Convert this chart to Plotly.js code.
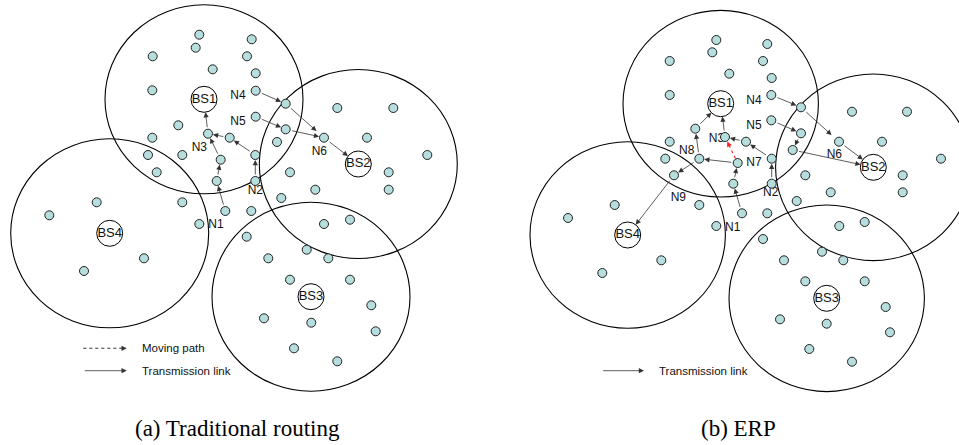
<!DOCTYPE html>
<html><head><meta charset="utf-8">
<script src="https://cdn.plot.ly/plotly-3.0.1.min.js"></script>
<style>html,body{margin:0;padding:0;background:#fff}#chart{width:959px;height:445px}</style>
</head><body><div id="chart"></div>
<script>
// ---------- Panel (a): Traditional routing ----------
const nodesAX = [199.3,195.7,251.7,247,152.7,212.7,255.7,152.3,255.7,285.7,337.3,393.3,178.3,255.7,285.7,324,367,152.3,208,229.7,277,148,182.3,220.7,255.3,427.3,156.7,290,388.7,216.7,255.3,315.3,388.7,281.3,96.7,182.3,49.3,225.3,251.3,350,324,199.3,246.7,144,84,306.7,328.3,268.3,290,350,371.3,264,311.3,375.7,294,337.3];
const nodesAY = [34.7,47.7,39.3,56.3,56.3,69.3,73.3,90.3,90.7,103.7,108,108,125.3,116.7,129.3,137.7,137.7,137.7,133.7,137.7,142,155,155,159.7,155,155,172.3,172.3,172.3,181,181,189.7,189.7,198,202.3,202.3,215.3,211,211,219.7,224,224,236.7,258.3,271,249.7,258.3,258.3,279.7,279.7,305.3,318.3,322.7,331.3,348.3,361.3];
const bsNames = ['BS1','BS2','BS3','BS4'];
const bsAX = [204,358.3,311,109.7];
const bsAY = [99.3,164,296.7,233.3];
const linksAFrom = ['n37','n29','n23','n18','n19','n24','n30','n8','n9','n13','n14','n15'];
const linksATo   = ['n29','n23','n18','b0','n18','n19','n24','n9','n15','n14','n15','b1'];
const labelsAText = ['N4','N5','N3','N6','N2','N1'];
const labelsAX = [238,238,199.3,319.3,255.3,216];
const labelsAY = [96,122.3,148,152,191,225];

// ---------- Panel (b): ERP ----------
const nodesBX = [716.3,712.3,767.3,763,669.7,729.3,771.7,669.7,771.3,801,852,907,695.3,771.3,801,839,882,669.7,725,746,792.7,665.3,699.3,737.7,771.7,941,674,805.3,902.7,733.3,771.7,830.7,902.7,796.7,614.7,699.3,568,742,767.3,864.7,839.3,716.3,763,661.3,602.3,822,843.3,784,805.3,864.7,885.7,780,826.7,890,809.3,852];
const nodesBY = [40,52.3,44,61,61,73.7,78,95,95,107.3,111.7,111.7,128.7,120.3,133.3,141.7,141.7,141.7,137,141.7,150,158.7,158.7,163,158.7,158.7,175.3,175.3,175.3,183.7,183.7,192.3,192.3,201,205,205,218,213.3,213.3,222,226,226,239,260.3,273,251.7,260.3,260.3,281.3,281.3,307,319.3,323.7,332.3,349,361.7];
const bsBX = [720.7,873.3,826.7,627.7];
const bsBY = [103.7,167.3,298.3,235];
const linksBFrom = ['n37','n29','n23','n22','n12','n18','n19','n24','n30','n22','n26','n8','n9','n15','n13','n14','n20'];
const linksBTo   = ['n29','n23','n22','n12','b0','b0','n18','n19','n24','n26','b3','n9','n15','b1','n14','n20','b1'];
const movesBFrom = ['n23'];
const movesBTo   = ['n18'];
const labelsBText = ['N4','N5','N3','N8','N7','N6','N2','N9','N1'];
const labelsBX = [754,754,716.5,686.7,754,834.3,770.7,678.3,732.7];
const labelsBY = [100.7,126,139,151,163.3,155.3,193.3,197.7,227.7];

// ---------- drawing ----------
const rangeA = {rx:99, ry:94.5};
const rangeB = {rx:97.7, ry:93.3};
const NODE_R = 5, BS_R = 13;
const LINK = '#333';
const sans = 'Arial, Liberation Sans, sans-serif';

function pt(key, nx, ny, bx, by){
  const i = parseInt(key.slice(1));
  return key[0]==='b' ? {x:bx[i], y:by[i], r:BS_R} : {x:nx[i], y:ny[i], r:NODE_R};
}
const shapes = [], annotations = [], traces = [];

function linkArrow(p, q, color, shortEnd){
  annotations.push({x:q.x, y:q.y, ax:p.x, ay:p.y, xref:'x', yref:'y', axref:'x', ayref:'y',
    text:'', showarrow:true, arrowhead:2, arrowsize:1.3, arrowwidth:0.8, arrowcolor:color,
    standoff:q.r + (shortEnd||0), startstandoff:p.r});
}
function dottedArrow(p, q, color, endGap, startGap){
  const dx=q.x-p.x, dy=q.y-p.y, L=Math.hypot(dx,dy), ux=dx/L, uy=dy/L;
  const hx=q.x-ux*endGap, hy=q.y-uy*endGap;
  traces.push({type:'scatter', mode:'lines', x:[p.x+ux*startGap, hx-ux*2], y:[p.y+uy*startGap, hy-uy*2],
    line:{color:color, width:1.1, dash:'dot'}, hoverinfo:'skip', showlegend:false});
  annotations.push({x:hx, y:hy, ax:hx-ux*4, ay:hy-uy*4, xref:'x', yref:'y', axref:'x', ayref:'y',
    text:'', showarrow:true, arrowhead:2, arrowsize:1.3, arrowwidth:0.8, arrowcolor:color, standoff:0});
}

function panel(nx, ny, bx, by, rng, lf, lt, labT, labX, labY){
  bx.forEach((cx,k)=>{
    shapes.push({type:'circle', xref:'x', yref:'y', x0:cx-rng.rx, x1:cx+rng.rx, y0:by[k]-rng.ry, y1:by[k]+rng.ry,
      line:{color:'#000', width:1.1}, fillcolor:'rgba(0,0,0,0)', layer:'below'});
  });
  traces.push({type:'scatter', mode:'text', x:labX, y:labY, text:labT, textposition:'middle center',
    textfont:{family:sans, size:12, color:'#111'}, hoverinfo:'skip', showlegend:false});
  traces.push({type:'scatter', mode:'markers', x:nx, y:ny,
    marker:{size:9, color:'#b7dede', line:{color:'#222', width:1}}, hoverinfo:'skip', showlegend:false});
  traces.push({type:'scatter', mode:'markers+text', x:bx, y:by, text:bsNames, textposition:'middle center',
    textfont:{family:sans, size:13, color:'#111'},
    marker:{size:26, color:'#fff', line:{color:'#000', width:1}}, hoverinfo:'skip', showlegend:false});
  lf.forEach((f,k)=>{
    const p=pt(f,nx,ny,bx,by), q=pt(lt[k],nx,ny,bx,by);
    const shortEnd = (f==='n9' && lt[k]==='n15') ? 5 : 0;
    linkArrow(p,q,LINK,shortEnd);
  });
}
panel(nodesAX,nodesAY,bsAX,bsAY,rangeA,linksAFrom,linksATo,labelsAText,labelsAX,labelsAY);
panel(nodesBX,nodesBY,bsBX,bsBY,rangeB,linksBFrom,linksBTo,labelsBText,labelsBX,labelsBY);
movesBFrom.forEach((f,k)=>{
  const p=pt(f,nodesBX,nodesBY,bsBX,bsBY), q=pt(movesBTo[k],nodesBX,nodesBY,bsBX,bsBY);
  dottedArrow(p,q,'#ff2020',5,5);
});

// legends
dottedArrow({x:83.3,y:348.3},{x:126.7,y:348.3},'#333',0,0);
linkArrow({x:83.3,y:370.7,r:0},{x:126.7,y:370.7,r:0},'#333');
linkArrow({x:601.7,y:370.7,r:0},{x:644,y:370.7,r:0},'#333');
[[140,348.3,'Moving path'],[140,370.7,'Transmission link'],[656.7,370.7,'Transmission link']].forEach(a=>{
  annotations.push({x:a[0], y:a[1], xref:'x', yref:'y', text:a[2], showarrow:false, xanchor:'left', yanchor:'middle',
    font:{family:sans, size:11.5, color:'#111'}});
});
// captions
[[237,428,'(a) Traditional routing'],[738,428,'(b) ERP']].forEach(a=>{
  annotations.push({x:a[0], y:a[1], xref:'x', yref:'y', text:a[2], showarrow:false, xanchor:'center', yanchor:'middle',
    font:{family:'Times New Roman, Liberation Serif, serif', size:23, color:'#000'}});
});

const layout = {
  width:959, height:445, margin:{l:0,r:0,t:0,b:0},
  paper_bgcolor:'#fff', plot_bgcolor:'#fff', showlegend:false,
  xaxis:{range:[0,959], visible:false, fixedrange:true},
  yaxis:{range:[445,0], visible:false, fixedrange:true},
  shapes:shapes, annotations:annotations
};
Plotly.newPlot('chart', traces, layout, {staticPlot:true});
</script></body></html>
